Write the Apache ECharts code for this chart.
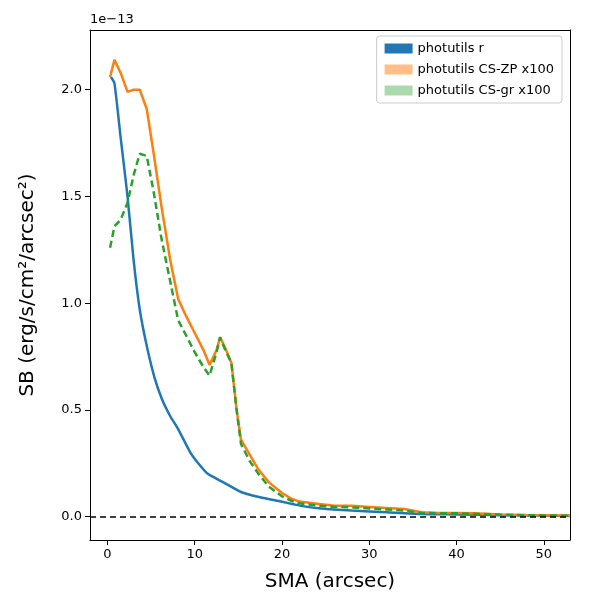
<!DOCTYPE html>
<html><head><meta charset="utf-8">
<script src="https://cdn.jsdelivr.net/npm/echarts@6/dist/echarts.min.js"></script>
<style>body{margin:0}#c{width:600px;height:600px}</style></head>
<body><div id="c"></div>
<script>
// values in units of 1e-13
let rX = [0.4, 0.8, 1.5, 2.3, 3.0, 3.7, 4.5, 5.4, 6.25, 7.2, 8.1, 9.5, 10.4, 11.5, 13.3, 15.3, 17.5, 19.9, 22.2, 24.5, 28, 32, 36, 40, 45, 53];
let rY = [2.06, 2.03, 1.78, 1.5, 1.2, 0.97, 0.8, 0.65, 0.55, 0.47, 0.41, 0.30, 0.25, 0.20, 0.16, 0.115, 0.09, 0.07, 0.05, 0.038, 0.028, 0.02, 0.012, 0.01, 0.006, 0.003];
let zpX = [0.3, 0.8, 1.5, 2.3, 3.0, 3.7, 4.5, 5.3, 6.2, 7.2, 8.1, 9, 10, 11, 11.7, 12.5, 12.9, 13.5, 14.2, 14.8, 15.3, 16.3, 17.3, 18.5, 20, 21, 22, 24, 26, 28, 30, 32, 34, 36, 38, 40, 42, 45, 48, 53];
let zpY = [2.06, 2.14, 2.08, 1.99, 2.0, 2.0, 1.91, 1.7, 1.45, 1.2, 1.02, 0.94, 0.86, 0.78, 0.71, 0.78, 0.84, 0.79, 0.72, 0.5, 0.36, 0.29, 0.22, 0.16, 0.11, 0.085, 0.07, 0.06, 0.05, 0.05, 0.045, 0.04, 0.035, 0.02, 0.017, 0.017, 0.015, 0.01, 0.007, 0.005];
let grX = zpX;
let grY = [1.26, 1.36, 1.39, 1.47, 1.6, 1.7, 1.69, 1.52, 1.3, 1.1, 0.92, 0.85, 0.77, 0.7, 0.66, 0.77, 0.84, 0.78, 0.72, 0.5, 0.34, 0.26, 0.2, 0.14, 0.095, 0.075, 0.062, 0.052, 0.045, 0.043, 0.038, 0.033, 0.028, 0.017, 0.015, 0.015, 0.013, 0.009, 0.006, 0.004];
let xTicks = [0, 10, 20, 30, 40, 50];
let yTicks = [0, 0.5, 1.0, 1.5, 2.0];

function pairs(xs, ys) { return xs.map((x, i) => [x, ys[i]]); }

let chart = echarts.init(document.getElementById('c'));
let font = 'DejaVu Sans';
let frame = {show: true, onZero: false, lineStyle: {color: '#000'}};
chart.setOption({
    animation: false,
    textStyle: {fontFamily: font},
    grid: {left: 90, right: 30, top: 30, bottom: 60},
    graphic: [{type: 'text', left: 90, top: 13, style: {text: '1e\u221213', font: '13px DejaVu Sans', fill: '#000'}}],
    legend: {
        right: 38, top: 36, orient: 'vertical', itemWidth: 28, itemHeight: 10, itemGap: 8,
        backgroundColor: '#fff', borderColor: '#ccc', borderWidth: 1, borderRadius: 3, padding: [6, 8],
        textStyle: {fontSize: 13, color: '#000'},
        data: [
            {name: 'photutils r', icon: 'rect', itemStyle: {color: '#1f77b4'}},
            {name: 'photutils CS-ZP x100', icon: 'rect', itemStyle: {color: 'rgba(255,127,14,0.5)'}},
            {name: 'photutils CS-gr x100', icon: 'rect', itemStyle: {color: 'rgba(44,160,44,0.4)'}}
        ]
    },
    xAxis: [{
        type: 'value', min: -2, max: 53,
        name: 'SMA (arcsec)', nameLocation: 'middle', nameGap: 32, nameTextStyle: {fontSize: 20, color: '#000'},
        axisLine: frame, axisTick: {show: true, customValues: xTicks},
        axisLabel: {color: '#000', fontSize: 13, customValues: xTicks},
        splitLine: {show: false}
    }, {
        type: 'value', min: -2, max: 53, position: 'top', axisLine: frame,
        axisTick: {show: false}, axisLabel: {show: false}, splitLine: {show: false}
    }],
    yAxis: [{
        type: 'value', min: -0.11, max: 2.28,
        name: 'SB (erg/s/cm\u00b2/arcsec\u00b2)', nameLocation: 'middle', nameGap: 52, nameTextStyle: {fontSize: 20, color: '#000'},
        axisLine: frame, axisTick: {show: true, customValues: yTicks},
        axisLabel: {color: '#000', fontSize: 13, customValues: yTicks, formatter: v => v.toFixed(1)},
        splitLine: {show: false}
    }, {
        type: 'value', min: -0.11, max: 2.28, position: 'right', axisLine: frame,
        axisTick: {show: false}, axisLabel: {show: false}, splitLine: {show: false}
    }],
    series: [
        {name: 'photutils r', type: 'line', data: pairs(rX, rY), showSymbol: false, smooth: 0.2, lineStyle: {color: '#1f77b4', width: 2.5}, itemStyle: {color: '#1f77b4'},
         markLine: {silent: true, symbol: 'none', label: {show: false}, lineStyle: {color: '#000', type: [6, 4], width: 1.5}, data: [{yAxis: 0}]}},
        {name: 'photutils CS-ZP x100', type: 'line', data: pairs(zpX, zpY), showSymbol: false, lineStyle: {color: '#ff7f0e', width: 2.5}, itemStyle: {color: '#ff7f0e'}},
        {name: 'photutils CS-gr x100', type: 'line', data: pairs(grX, grY), showSymbol: false, lineStyle: {color: '#2ca02c', width: 2.5, type: [7, 4]}, itemStyle: {color: '#2ca02c'}}
    ]
});
</script></body></html>
